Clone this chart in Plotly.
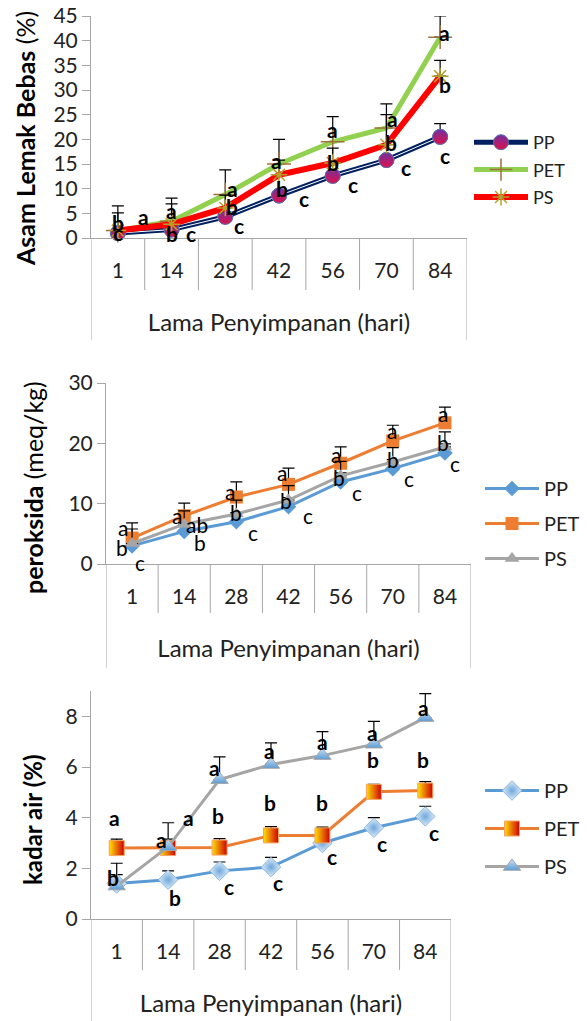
import plotly.graph_objects as go

W, H = 588, 1021

# ---------------- data ----------------
days = ["1", "14", "28", "42", "56", "70", "84"]

# Asam Lemak Bebas (%)
alb_pp = [1.0, 1.7, 4.3, 8.6, 12.6, 15.8, 20.5]
alb_pet = [1.5, 3.4, 8.8, 15.0, 19.5, 22.3, 40.7]
alb_ps = [1.5, 2.8, 6.1, 12.8, 15.2, 18.9, 32.8]
alb_pp_err = [0.5, 0.5, 0.5, 0.5, 0.5, 0.6, 2.7]
alb_pet_err = [5.0, 4.7, 5.0, 5.0, 5.1, 4.9, 4.3]
alb_ps_err = [3.6, 4.1, 2.6, 3.0, 3.0, 6.1, 3.2]
alb_lbl = ["b", "c", "a", "a", "b", "c", "a", "b", "c", "a", "b", "c",
           "a", "b", "c", "a", "b", "c", "a", "b", "c"]
alb_lbl_x = [0.0, 0.0, 0.48, 1.0, 1.0, 1.37, 2.13, 2.13, 2.26, 2.95, 3.06, 3.47,
             4.0, 4.0, 4.37, 5.11, 5.09, 5.37, 6.09, 6.09, 6.09]
alb_lbl_y = [3.2, 1.2, 4.3, 5.5, 1.0, 1.0, 10.1, 6.3, 2.6, 15.8, 10.1, 8.1,
             21.9, 15.4, 10.8, 24.3, 19.3, 14.2, 41.6, 31.2, 16.8]

# Peroksida (meq/kg)
pox_pp = [3.0, 5.4, 7.0, 9.5, 13.6, 15.8, 18.4]
pox_pet = [4.3, 8.0, 11.1, 13.2, 16.7, 20.4, 23.4]
pox_ps = [3.4, 6.6, 8.3, 10.6, 14.6, 16.9, 19.4]
pox_pp_err = [1.5, 1.5, 1.5, 1.5, 1.5, 1.5, 1.5]
pox_pet_err = [2.5, 2.1, 2.5, 2.7, 2.7, 2.6, 2.6]
pox_ps_err = [2.4, 2.2, 2.3, 2.4, 2.4, 2.4, 2.5]
pox_lbl = ["a", "b", "c", "a", "ab", "b", "a", "b", "c", "a", "b", "c",
           "a", "b", "c", "a", "b", "c", "a", "b", "c"]
pox_lbl_x = [-0.17, -0.19, 0.15, 0.87, 1.25, 1.31, 1.88, 2.0, 2.31, 2.88, 2.96, 3.37,
             3.92, 3.96, 4.31, 4.98, 5.0, 5.31, 5.96, 5.96, 6.19]
pox_lbl_y = [6.0, 2.7, 0.2, 8.1, 6.5, 3.5, 12.1, 8.5, 5.3, 15.1, 10.6, 8.1,
             18.1, 14.4, 11.8, 22.1, 17.4, 14.1, 25.0, 20.2, 16.6]

# Kadar air (%)
ka_pp = [1.4, 1.55, 1.9, 2.05, 3.0, 3.6, 4.05]
ka_pet = [2.8, 2.8, 2.82, 3.3, 3.3, 5.02, 5.07]
ka_ps = [1.3, 2.85, 5.5, 6.1, 6.45, 6.9, 7.95]
ka_pp_err = [0.35, 0.35, 0.35, 0.38, 0.35, 0.4, 0.4]
ka_pet_err = [0.35, 0.35, 0.35, 0.35, 0.33, 0.3, 0.35]
ka_ps_err = [0.9, 0.95, 0.9, 0.85, 0.95, 0.9, 0.95]
ka_lbl = ["a", "b", "b", "a", "a", "b", "a", "b", "c", "a", "b", "c",
          "a", "b", "c", "a", "b", "c", "a", "b", "c"]
ka_lbl_x = [-0.04, -0.08, -0.04, 0.88, 1.39, 1.14, 1.9, 1.96, 2.19, 2.98, 2.98, 3.14,
            4.0, 4.0, 4.19, 4.98, 4.98, 5.16, 5.96, 5.96, 6.16]
ka_lbl_y = [4.0, 1.65, -0.1, 3.15, 4.0, 0.85, 6.0, 4.1, 1.3, 6.65, 4.6, 1.45,
            7.0, 4.6, 2.45, 7.35, 6.3, 3.0, 8.35, 6.3, 3.4]

series_names = ["PP", "PET", "PS"]

# ---------------- layout helpers ----------------
FONT = "Lato"
AXC = "#A6A6A6"
TXT = "#222222"


def pxx(x):
    return x / W


def pxy(y):
    return 1 - y / H


xpos = list(range(len(days)))

panels = [
    dict(key="", x0=91, x1=467, ytop=16, ybot=238, rng=[0, 45], dtick=5,
         sep=290, box=340, ytitle="<b>Asam Lemak Bebas</b> (%)", ytx=25, yty=139,
         legend="legend"),
    dict(key="2", x0=106, x1=471, ytop=383, ybot=564, rng=[0, 30], dtick=10,
         sep=613, box=668, ytitle="<b>peroksida</b> (meq/kg)", ytx=33, yty=488,
         legend="legend2"),
    dict(key="3", x0=91, x1=451, ytop=691, ybot=919, rng=[0, 9], dtick=2,
         sep=970, box=1021, ytitle="<b>kadar air (%)</b>", ytx=32, yty=820,
         legend="legend3"),
]

fig = go.Figure()


def err(arr):
    return dict(type="data", symmetric=False, array=arr, arrayminus=[0] * len(arr),
                color="black", thickness=1.2, width=6)


# ---- panel 1 traces ----
fig.add_trace(go.Scatter(x=xpos, y=alb_pp, name=series_names[0], mode="lines+markers",
                         legendgroup="a1",
                         line=dict(color="#002060", width=5),
                         marker=dict(symbol="circle", size=15, color="#7030A0",
                                     gradient=dict(type="vertical", color="#E0104A"),
                                     line=dict(color="#5A6FB0", width=1)),
                         error_y=err(alb_pp_err), xaxis="x", yaxis="y", legend="legend",
                         cliponaxis=False))
fig.add_trace(go.Scatter(x=xpos, y=alb_pp, mode="lines", showlegend=False, hoverinfo="skip",
                         line=dict(color="white", width=1), xaxis="x", yaxis="y",
                         cliponaxis=False))
fig.add_trace(go.Scatter(x=xpos, y=alb_pp, mode="markers", showlegend=False,
                         marker=dict(symbol="circle", size=15, color="#7030A0",
                                     gradient=dict(type="vertical", color="#E0104A"),
                                     line=dict(color="#5A6FB0", width=1)),
                         xaxis="x", yaxis="y", cliponaxis=False))
fig.add_trace(go.Scatter(x=xpos, y=alb_pet, name=series_names[1], mode="lines+markers",
                         legendgroup="a2",
                         line=dict(color="#92D050", width=5),
                         marker=dict(symbol="cross-thin", size=17, color="#A0703A",
                                     line=dict(color="#A0703A", width=1.5)),
                         error_y=err(alb_pet_err), xaxis="x", yaxis="y", legend="legend",
                         cliponaxis=False))
fig.add_trace(go.Scatter(x=xpos, y=alb_ps, name=series_names[2], mode="lines+markers",
                         legendgroup="a3",
                         line=dict(color="#FF0000", width=6),
                         marker=dict(symbol="asterisk-open", size=14, color="#B5A02A",
                                     line=dict(color="#B5A02A", width=1.5)),
                         error_y=err(alb_ps_err), xaxis="x", yaxis="y", legend="legend",
                         cliponaxis=False))

# ---- panel 2 traces ----
fig.add_trace(go.Scatter(x=xpos, y=pox_pp, name=series_names[0], mode="lines+markers",
                         legendgroup="b1",
                         line=dict(color="#5B9BD5", width=3),
                         marker=dict(symbol="diamond", size=12, color="#5B9BD5"),
                         error_y=err(pox_pp_err), xaxis="x2", yaxis="y2", legend="legend2",
                         cliponaxis=False))
fig.add_trace(go.Scatter(x=xpos, y=pox_pet, name=series_names[1], mode="lines+markers",
                         legendgroup="b2",
                         line=dict(color="#ED7D31", width=3),
                         marker=dict(symbol="square", size=13, color="#ED7D31"),
                         error_y=err(pox_pet_err), xaxis="x2", yaxis="y2", legend="legend2",
                         cliponaxis=False))
fig.add_trace(go.Scatter(x=xpos, y=pox_ps, name=series_names[2], mode="lines+markers",
                         legendgroup="b3",
                         line=dict(color="#A5A5A5", width=3),
                         marker=dict(symbol="triangle-up", size=13, color="#A5A5A5"),
                         error_y=err(pox_ps_err), xaxis="x2", yaxis="y2", legend="legend2",
                         cliponaxis=False))

# ---- panel 3 traces ----
fig.add_trace(go.Scatter(x=xpos, y=ka_pp, name=series_names[0], mode="lines+markers",
                         legendgroup="c1",
                         line=dict(color="#5B9BD5", width=3),
                         marker=dict(symbol="diamond", size=15, color="#DDEBF7",
                                     gradient=dict(type="radial", color="#6FA8DC"),
                                     line=dict(color="#8FB8E0", width=1)),
                         error_y=err(ka_pp_err), xaxis="x3", yaxis="y3", legend="legend3",
                         cliponaxis=False))
fig.add_trace(go.Scatter(x=xpos, y=ka_pet, name=series_names[1], mode="lines+markers",
                         legendgroup="c2",
                         line=dict(color="#ED7D31", width=3),
                         marker=dict(symbol="square", size=15, color="#FFE000",
                                     gradient=dict(type="horizontal", color="#D00000"),
                                     line=dict(color="#F4A460", width=1)),
                         error_y=err(ka_pet_err), xaxis="x3", yaxis="y3", legend="legend3",
                         cliponaxis=False))
fig.add_trace(go.Scatter(x=xpos, y=ka_ps, name=series_names[2], mode="lines+markers",
                         legendgroup="c3",
                         line=dict(color="#A5A5A5", width=3),
                         marker=dict(symbol="triangle-up", size=15, color="#CFE3F7",
                                     gradient=dict(type="vertical", color="#5B9BD5"),
                                     line=dict(color="#A5A5A5", width=1)),
                         error_y=err(ka_ps_err), xaxis="x3", yaxis="y3", legend="legend3",
                         cliponaxis=False))

# ---------------- axes, shapes, annotations ----------------
layout = dict(width=W, height=H, margin=dict(l=0, r=0, t=0, b=0, autoexpand=False),
              paper_bgcolor="white", plot_bgcolor="white",
              font=dict(family=FONT, color=TXT))
shapes = []
annotations = []

label_sets = [(alb_lbl, alb_lbl_x, alb_lbl_y, True),
              (pox_lbl, pox_lbl_x, pox_lbl_y, False),
              (ka_lbl, ka_lbl_x, ka_lbl_y, True)]

legend_tops = [124, 469, 771]
legend_x = [469, 480, 480]
legend_fs = [18, 20, 20]
legend_gap = [1, 6, 9]

for k, p in enumerate(panels):
    xa = "xaxis" + p["key"]
    ya = "yaxis" + p["key"]
    xr = "x" + p["key"]
    yr = "y" + p["key"]
    layout[xa] = dict(domain=[pxx(p["x0"]), pxx(p["x1"])], range=[-0.5, len(days) - 0.5],
                      tickmode="array", tickvals=xpos, ticktext=days,
                      showline=True, linecolor=AXC, linewidth=1, ticks="",
                      showgrid=False, zeroline=False, anchor=yr,
                      tickfont=dict(size=21, family=FONT, color=TXT),
                      ticklabelstandoff=14,
                      title=dict(text="Lama Penyimpanan (hari)", standoff=32,
                                 font=dict(size=24, family=FONT, color=TXT)))
    layout[ya] = dict(domain=[pxy(p["ybot"]), pxy(p["ytop"])], range=p["rng"],
                      dtick=p["dtick"], tick0=0, showline=True, linecolor=AXC, linewidth=1,
                      ticks="outside", ticklen=8, tickcolor=AXC, showgrid=False,
                      zeroline=False, anchor=xr,
                      tickfont=dict(size=21, family=FONT, color=TXT))
    # category separators and box lines
    for i in range(len(days) + 1):
        edge = i == 0 or i == len(days)
        shapes.append(dict(type="line", xref=xr, yref="paper", x0=i - 0.5, x1=i - 0.5,
                           y0=pxy(p["ybot"]), y1=pxy(p["box"] if edge else p["sep"]),
                           line=dict(color=AXC, width=1)))
    # y title
    annotations.append(dict(text=p["ytitle"], textangle=-90, xref="paper", yref="paper",
                            x=pxx(p["ytx"]), y=pxy(p["yty"]), showarrow=False,
                            xanchor="center", yanchor="middle",
                            font=dict(size=25 if k < 2 else 24, family=FONT, color="black")))
    # significance letters
    txts, lx, ly, bold = label_sets[k]
    for t, xv, yv in zip(txts, lx, ly):
        annotations.append(dict(text=("<b>%s</b>" % t) if bold else t, xref=xr, yref=yr,
                                x=xv, y=yv, showarrow=False, xanchor="center",
                                yanchor="middle",
                                font=dict(size=21, family=FONT, color="black")))
    layout[p["legend"]] = dict(x=pxx(legend_x[k]), y=pxy(legend_tops[k]), xanchor="left",
                               yanchor="top", bgcolor="rgba(0,0,0,0)", borderwidth=0,
                               itemwidth=54, traceorder="grouped",
                               tracegroupgap=legend_gap[k],
                               font=dict(size=legend_fs[k], family=FONT, color=TXT))

layout["shapes"] = shapes
layout["annotations"] = annotations
layout["showlegend"] = True
fig.update_layout(**layout)

fig.write_html("out.html", config={"displayModeBar": False},
               post_script="document.body.style.margin='0px';")
